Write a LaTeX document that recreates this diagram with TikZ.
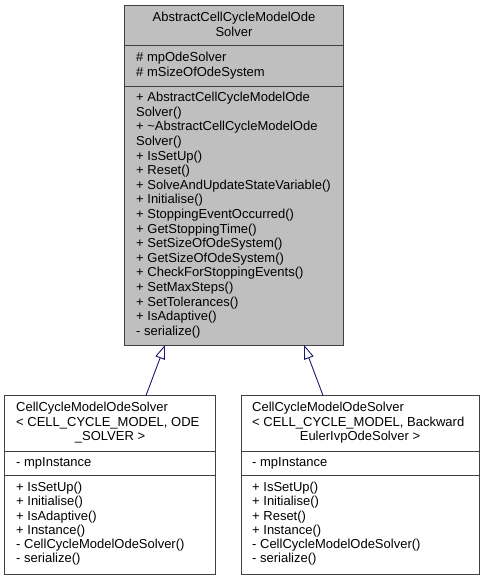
\documentclass[tikz,border=0pt]{standalone}
\usepackage{fontspec}
\setmainfont{Liberation Sans}
\usetikzlibrary{arrows.meta}
\definecolor{boxfill}{HTML}{BFBFBF}
\definecolor{boxline}{HTML}{404040}
\definecolor{edgecol}{HTML}{191970}
\begin{document}
\begin{tikzpicture}[x=1pt,y=-1pt,
  box/.style={draw=boxline, line width=0.9pt, inner sep=0pt, outer sep=0pt, anchor=north west},
  sep/.style={draw=boxline, line width=0.9pt},
  txt/.style={inner sep=0pt, anchor=base west, font=\fontsize{13}{14.6}\selectfont},
  ctxt/.style={inner sep=0pt, anchor=base, font=\fontsize{13}{14.6}\selectfont},
  inh/.style={draw=edgecol, line width=0.9pt, -{Triangle[open, length=14pt, width=10pt, line width=0.9pt, fill=white]}}]
\useasboundingbox (0,0) rectangle (484,581);
\fill[white] (0,0) rectangle (484,581);

% base class
\node[box, fill=boxfill, minimum width=219pt, minimum height=340pt] (base) at (124.5,5) {};
\draw[sep] (base.west |- 0,45.5) -- (base.east |- 0,45.5);
\draw[sep] (base.west |- 0,86) -- (base.east |- 0,86);
\node[ctxt] (bt1) at (234,21.7) {AbstractCellCycleModelOde};
\node[ctxt] (bt2) at (234,36.3) {Solver};
\node[txt] (ba1) at (136,61.5) {\# mpOdeSolver};
\node[txt] (ba2) at (136,76) {\# mSizeOfOdeSystem};
\foreach \t [count=\i from 0] in {%
  + AbstractCellCycleModelOde,
  Solver(),
  + \textasciitilde AbstractCellCycleModelOde,
  Solver(),
  + IsSetUp(),
  + Reset(),
  + SolveAndUpdateStateVariable(),
  + Initialise(),
  + StoppingEventOccurred(),
  + GetStoppingTime(),
  + SetSizeOfOdeSystem(),
  + GetSizeOfOdeSystem(),
  + CheckForStoppingEvents(),
  + SetMaxSteps(),
  + SetTolerances(),
  + IsAdaptive(),
  - serialize()}
  \node[txt] (bm\i) at (136,101.7+14.6*\i) {\t};

% left derived class
\node[box, fill=white, minimum width=211pt, minimum height=179pt] (left) at (4.5,395.5) {};
\draw[sep] (left.west |- 0,451) -- (left.east |- 0,451);
\draw[sep] (left.west |- 0,475) -- (left.east |- 0,475);
\node[txt] (lt1) at (16,411.7) {CellCycleModelOdeSolver};
\node[txt] (lt2) at (16,426.2) {< CELL\_CYCLE\_MODEL, ODE};
\node[ctxt] (lt3) at (110,440.7) {\_SOLVER >};
\node[txt] (la1) at (16,466.7) {- mpInstance};
\foreach \t [count=\i from 0] in {%
  + IsSetUp(),
  + Initialise(),
  + IsAdaptive(),
  + Instance(),
  - CellCycleModelOdeSolver(),
  - serialize()}
  \node[txt] (lm\i) at (16,491.7+14.25*\i) {\t};

% right derived class
\node[box, fill=white, minimum width=238pt, minimum height=179pt] (right) at (241,395.5) {};
\draw[sep] (right.west |- 0,451) -- (right.east |- 0,451);
\draw[sep] (right.west |- 0,475) -- (right.east |- 0,475);
\node[txt] (rt1) at (252,411.7) {CellCycleModelOdeSolver};
\node[txt] (rt2) at (252,426.2) {< CELL\_CYCLE\_MODEL, Backward};
\node[ctxt] (rt3) at (360,440.7) {EulerIvpOdeSolver >};
\node[txt] (ra1) at (252,466.7) {- mpInstance};
\foreach \t [count=\i from 0] in {%
  + IsSetUp(),
  + Initialise(),
  + Reset(),
  + Instance(),
  - CellCycleModelOdeSolver(),
  - serialize()}
  \node[txt] (rm\i) at (252,491.7+14.25*\i) {\t};

% inheritance connectors
\draw[inh] ([xshift=141.5pt]left.north west) -- ([xshift=40.5pt]base.south west);
\draw[inh] ([xshift=82pt]right.north west) -- ([xshift=179.5pt]base.south west);
\end{tikzpicture}
\end{document}
